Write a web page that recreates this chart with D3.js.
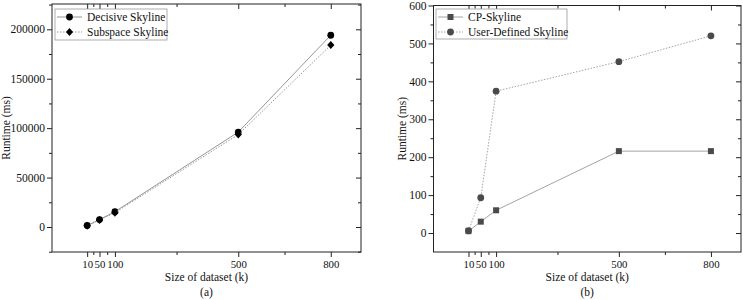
<!DOCTYPE html>
<html><head><meta charset="utf-8">
<script src="https://cdn.jsdelivr.net/npm/d3@7"></script>
<style>
body{margin:0;background:#fff;}
</style></head>
<body><svg id="c" width="743" height="300"></svg>
<script>
// ---- data ----
const sizes = [10, 50, 100, 500, 800];
const xMinorTicks = [30, 75, 300, 650];
const decisive = [1500, 7500, 15500, 96000, 194000];
const subspace = [1200, 7000, 14500, 93500, 184000];
const cpSkyline = [5, 30, 60, 216, 216];
const userDefined = [6, 93, 374, 452, 520];
const leftYTicks = [0, 50000, 100000, 150000, 200000];
const leftYMinor = [-25000, 25000, 75000, 125000, 175000, 225000];
const rightYTicks = [0, 100, 200, 300, 400, 500, 600];
const rightYMinor = [-50, 50, 150, 250, 350, 450, 550];

const FONT = "Liberation Serif";
const svg = d3.select("#c");

function txt(sel, size){
  return sel.style("font-family", FONT).style("font-size", size + "px").attr("fill", "#111");
}

function panel(opt){
  const g = svg.append("g");
  const x = d3.scaleLinear().domain([-104, 898]).range([opt.x0, opt.x1]);
  const y = d3.scaleLinear().domain(opt.yDomain).range([opt.y1, opt.y0]);
  const axisCol = "#222";
  const yMinor = opt.yMinor.filter(v=>v>opt.yDomain[0] && v<opt.yDomain[1]);
  const bx = g.append("g").attr("transform", `translate(0,${opt.y1})`)
    .call(d3.axisBottom(x).tickValues(sizes).tickSize(5).tickPadding(3).tickFormat(d3.format("d")));
  txt(bx.selectAll(".tick text"), 10.8);
  g.append("g").attr("transform", `translate(0,${opt.y1})`)
    .call(d3.axisBottom(x).tickValues(xMinorTicks).tickSize(3).tickFormat(""));
  g.append("g").attr("transform", `translate(0,${opt.y0})`)
    .call(d3.axisBottom(x).tickValues(sizes).tickSize(5).tickFormat(""));
  g.append("g").attr("transform", `translate(0,${opt.y0})`)
    .call(d3.axisBottom(x).tickValues(xMinorTicks).tickSize(3).tickFormat(""));
  const ly = g.append("g").attr("transform", `translate(${opt.x0},0)`)
    .call(d3.axisLeft(y).tickValues(opt.yTicks).tickSize(5).tickPadding(2).tickFormat(d3.format("d")));
  txt(ly.selectAll(".tick text"), 11.5);
  g.append("g").attr("transform", `translate(${opt.x0},0)`)
    .call(d3.axisLeft(y).tickValues(yMinor).tickSize(3).tickFormat(""));
  g.append("g").attr("transform", `translate(${opt.x1},0)`)
    .call(d3.axisRight(y).tickValues(opt.yTicks).tickSize(-5).tickFormat(""));
  g.append("g").attr("transform", `translate(${opt.x1},0)`)
    .call(d3.axisRight(y).tickValues(yMinor).tickSize(-3).tickFormat(""));
  g.selectAll(".domain").remove();
  g.selectAll(".tick line").attr("stroke", axisCol);
  g.append("rect").attr("x", opt.x0).attr("y", opt.y0).attr("width", opt.x1-opt.x0).attr("height", opt.y1-opt.y0)
    .attr("fill", "none").attr("stroke", axisCol).attr("stroke-width", 1);

  opt.series.forEach(s => {
    const line = d3.line().x((d,i)=>x(sizes[i])).y(d=>y(d));
    g.append("path").datum(s.values).attr("d", line).attr("fill","none")
      .attr("stroke", s.lineColor).attr("stroke-width", 0.9)
      .attr("stroke-dasharray", s.dash || null);
    s.values.forEach((v,i)=> drawMarker(g, s.marker, x(sizes[i]), y(v), s.markerColor));
  });

  const lg = g.append("g");
  lg.append("rect").attr("x", opt.legend.x).attr("y", opt.legend.y).attr("width", opt.legend.w).attr("height", opt.legend.h)
    .attr("fill", "#fff").attr("stroke", "#999").attr("stroke-width", 0.8);
  opt.series.forEach((s, i) => {
    const yy = opt.legend.y + 8 + i*15;
    const lx = opt.legend.x + 2;
    lg.append("line").attr("x1", lx).attr("x2", lx+25).attr("y1", yy).attr("y2", yy)
      .attr("stroke", s.lineColor).attr("stroke-width", 0.9).attr("stroke-dasharray", s.dash || null);
    drawMarker(lg, s.marker, lx+12.5, yy, s.markerColor);
    txt(lg.append("text").attr("x", lx+30).attr("y", yy+4), 11.5).text(s.name);
  });

  const cx = (opt.x0+opt.x1)/2;
  txt(g.append("text").attr("x", cx).attr("y", 281).attr("text-anchor","middle"), 11.5).text("Size of dataset (k)");
  txt(g.append("text").attr("x", cx).attr("y", 296).attr("text-anchor","middle"), 11.5).text(opt.sub);
  txt(g.append("text").attr("transform", `translate(${opt.yLabelX},${(opt.y0+opt.y1)/2}) rotate(-90)`)
    .attr("text-anchor","middle"), 11.5).text("Runtime (ms)");
}

function drawMarker(g, type, cx, cy, color){
  if (type === "circle") g.append("circle").attr("cx", cx).attr("cy", cy).attr("r", 3.4).attr("fill", color);
  else if (type === "diamond") g.append("path").attr("d", `M${cx},${cy-4}L${cx+3.6},${cy}L${cx},${cy+4}L${cx-3.6},${cy}Z`).attr("fill", color);
  else if (type === "square") g.append("rect").attr("x", cx-3).attr("y", cy-3).attr("width", 6).attr("height", 6).attr("fill", color);
}

panel({
  x0: 52, x1: 361, y0: 4, y1: 252,
  yDomain: [-25300, 225600], yTicks: leftYTicks, yMinor: leftYMinor,
  yLabelX: 9.5, sub: "(a)",
  legend: {x: 55, y: 9, w: 112, h: 31},
  series: [
    {name: "Decisive Skyline", values: decisive, marker: "circle", markerColor: "#000", lineColor: "#8a8a8a"},
    {name: "Subspace Skyline", values: subspace, marker: "diamond", markerColor: "#000", lineColor: "#8a8a8a", dash: "1.5,1.5"}
  ]
});
panel({
  x0: 433.5, x1: 741, y0: 5.5, y1: 252,
  yDomain: [-50, 600], yTicks: rightYTicks, yMinor: rightYMinor,
  yLabelX: 406, sub: "(b)",
  legend: {x: 436, y: 9, w: 131, h: 30},
  series: [
    {name: "CP-Skyline", values: cpSkyline, marker: "square", markerColor: "#4a4a4a", lineColor: "#999"},
    {name: "User-Defined Skyline", values: userDefined, marker: "circle", markerColor: "#4a4a4a", lineColor: "#999", dash: "1.5,1.5"}
  ]
});
</script></body></html>
